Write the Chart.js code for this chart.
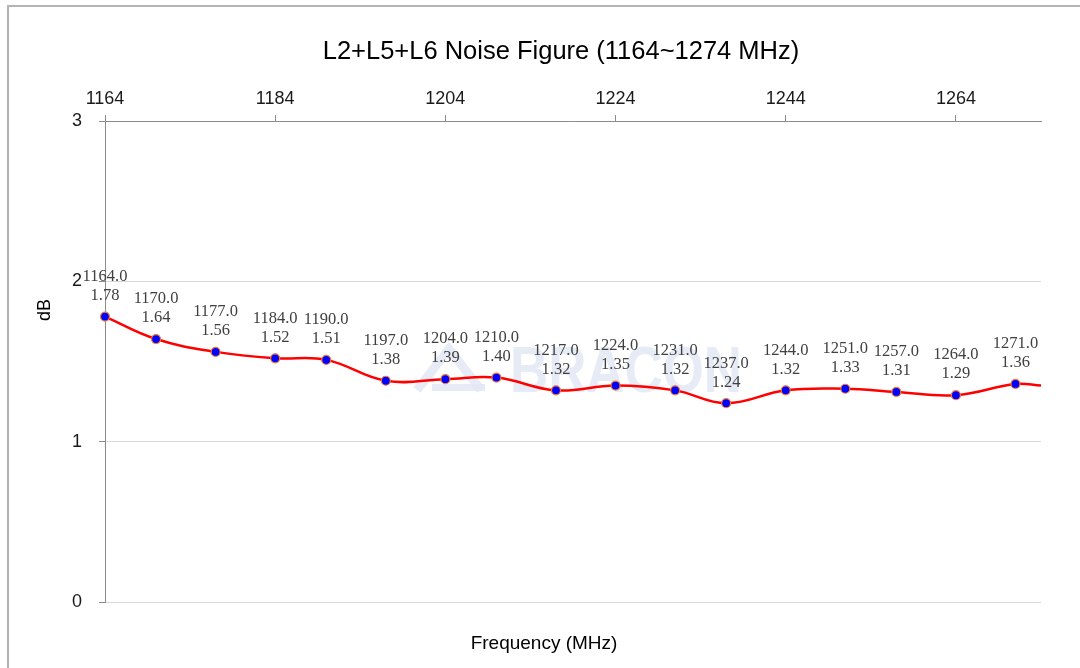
<!DOCTYPE html>
<html>
<head>
<meta charset="utf-8">
<script src="https://cdn.jsdelivr.net/npm/chart.js@4"></script>
<style>
  body { margin: 0; background: #fff; }
  #wrap { position: relative; width: 1080px; height: 668px; overflow: hidden; }
  #frame { position: absolute; left: 7px; top: 5px; width: 1200px; height: 800px;
           border-left: 2px solid #b4b4b4; border-top: 2px solid #b4b4b4; }
  canvas { position: absolute; left: 0; top: 0; }
</style>
</head>
<body>
<div id="wrap">
  <div id="frame"></div>
  <canvas id="chart" width="1080" height="668"></canvas>
</div>
<script>
// values
var freqs = [1164, 1170, 1177, 1184, 1190, 1197, 1204, 1210, 1217, 1224, 1231, 1237, 1244, 1251, 1257, 1264, 1271, 1274];
var noiseFigure = [1.78, 1.64, 1.56, 1.52, 1.51, 1.38, 1.39, 1.40, 1.32, 1.35, 1.32, 1.24, 1.32, 1.33, 1.31, 1.29, 1.36, 1.35];
var labelledCount = 17; // the last point only carries the line to the edge
var xTicks = [1164, 1184, 1204, 1224, 1244, 1264];
var yTicks = [0, 1, 2, 3];

var titleText = 'L2+L5+L6 Noise Figure (1164~1274 MHz)';
var xTitle = 'Frequency (MHz)';
var yTitle = 'dB';

Chart.defaults.font.family = '"Liberation Sans", Arial, sans-serif';

var points = freqs.map(function (f, i) { return { x: f, y: noiseFigure[i] }; });

var textPlugin = {
  id: 'texts',
  beforeDatasetsDraw: function (chart) {
    // faint watermark behind the line
    var ctx = chart.ctx;
    ctx.save();
    ctx.strokeStyle = 'rgba(226, 232, 245, 0.85)';
    ctx.fillStyle = 'rgba(226, 232, 245, 0.85)';
    ctx.lineWidth = 9;
    ctx.beginPath();
    ctx.moveTo(417, 390);
    ctx.lineTo(449, 349);
    ctx.lineTo(481, 390);
    ctx.stroke();
    ctx.fillRect(432, 384, 53, 7);
    ctx.font = 'bold 64px "Liberation Sans", Arial, sans-serif';
    ctx.textAlign = 'left';
    ctx.textBaseline = 'alphabetic';
    ctx.fillText('BRACON', 510, 392, 232);
    ctx.restore();
  },
  afterDatasetsDraw: function (chart) {
    var ctx = chart.ctx;
    var meta = chart.getDatasetMeta(0);
    ctx.save();
    ctx.fillStyle = '#404040';
    ctx.font = '16.5px "Liberation Serif", "Times New Roman", serif';
    ctx.textAlign = 'center';
    ctx.textBaseline = 'middle';
    for (var i = 0; i < labelledCount; i++) {
      var p = meta.data[i];
      ctx.fillText(freqs[i].toFixed(1), p.x, p.y - 40);
      ctx.fillText(noiseFigure[i].toFixed(2), p.x, p.y - 21);
    }
    ctx.restore();
  },
  afterDraw: function (chart) {
    var ctx = chart.ctx;
    ctx.save();
    ctx.fillStyle = '#000';
    ctx.textAlign = 'center';
    ctx.textBaseline = 'alphabetic';
    ctx.font = '25.5px "Liberation Sans", Arial, sans-serif';
    ctx.fillText(titleText, 561, 59);
    ctx.font = '19px "Liberation Sans", Arial, sans-serif';
    ctx.fillText(xTitle, 544, 649);
    ctx.translate(45, 310);
    ctx.rotate(-Math.PI / 2);
    ctx.font = '18px "Liberation Sans", Arial, sans-serif';
    ctx.textBaseline = 'middle';
    ctx.fillText(yTitle, 0, 0);
    ctx.restore();
  }
};

const ctx = document.getElementById('chart');
var chart = new Chart(ctx, {
  type: 'line',
  data: {
    datasets: [
      {
        data: points,
        borderColor: '#ff0000',
        borderWidth: 2.5,
        tension: 0.4,
        fill: false,
        clip: false,
        pointRadius: freqs.map(function (f, i) { return i < labelledCount ? 4.5 : 0; }),
        pointBackgroundColor: '#0000ff',
        pointBorderColor: '#ed7d31',
        pointBorderWidth: 1.2
      }
    ]
  },
  options: {
    responsive: false,
    animation: false,
    devicePixelRatio: 1,
    layout: { padding: { top: 70, left: 0, right: 39, bottom: 66 } },
    plugins: {
      legend: { display: false },
      tooltip: { enabled: false },
      title: { display: false }
    },
    scales: {
      x: {
        type: 'linear',
        position: 'top',
        min: 1164,
        max: 1274,
        afterBuildTicks: function (s) { s.ticks = xTicks.map(function (v) { return { value: v }; }); },
        afterFit: function (s) { s.height = 51; },
        grid: { drawOnChartArea: false, drawTicks: true, tickLength: 6, tickColor: '#8c8c8c' },
        border: { color: '#8c8c8c' },
        ticks: {
          font: { size: 18 }, color: '#1a1a1a', padding: 5, maxRotation: 0, autoSkip: false,
          callback: function (v) { return String(v); }
        }
      },
      y: {
        min: 0,
        max: 3,
        afterBuildTicks: function (s) { s.ticks = yTicks.map(function (v) { return { value: v }; }); },
        afterFit: function (s) { s.width = 105; },
        grid: { color: '#d9d9d9', tickLength: 6, tickColor: '#8c8c8c' },
        border: { color: '#8c8c8c' },
        ticks: { font: { size: 18 }, color: '#1a1a1a', padding: 17 }
      }
    }
  },
  plugins: [textPlugin]
});
</script>
</body>
</html>
